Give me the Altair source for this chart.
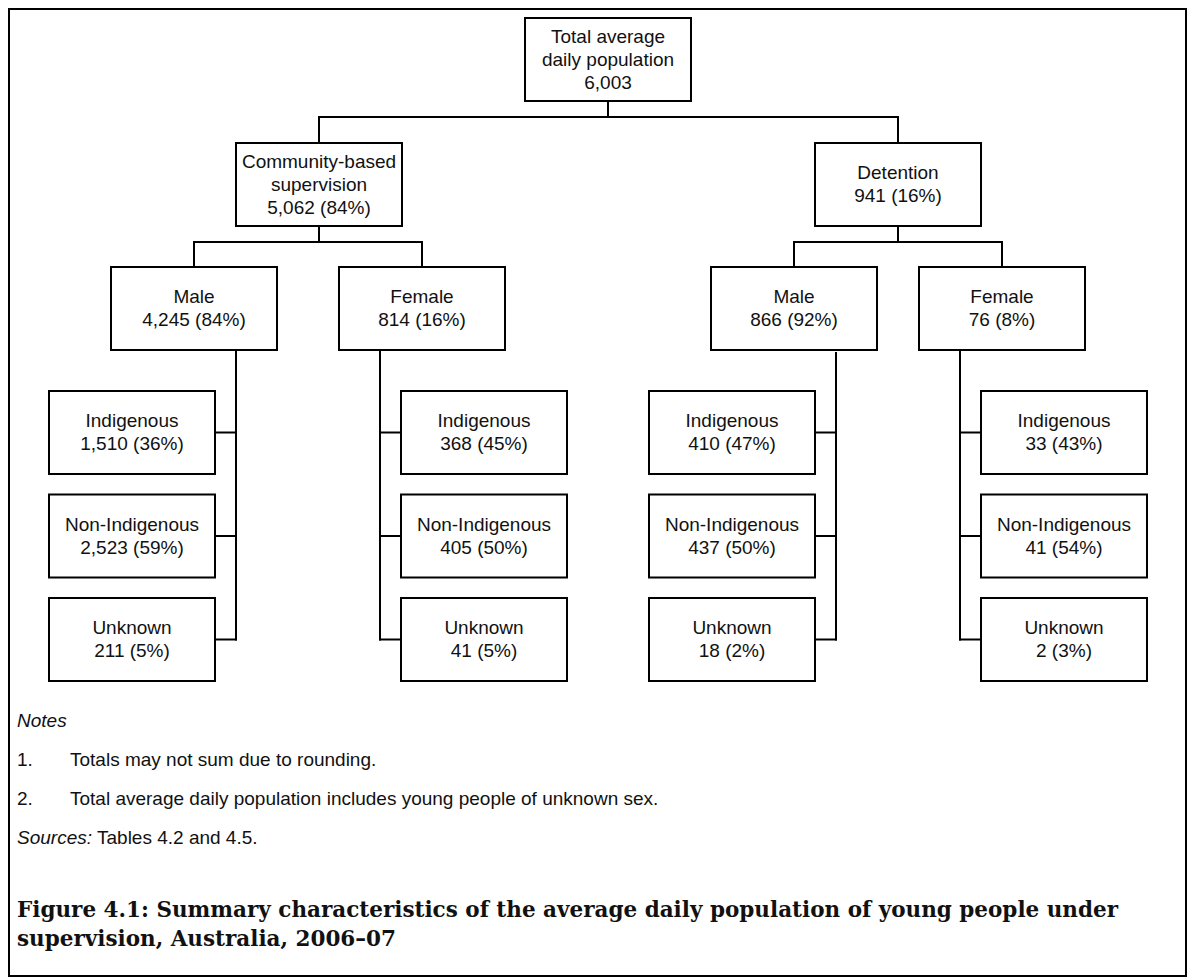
import altair as alt
import pandas as pd

# ---------------- data ----------------
root_label = ["Total average", "daily population"]
root_total = 6003

setting_lines = [["Community-based", "supervision"], ["Detention"]]
setting_counts = [5062, 941]
setting_pcts = [84, 16]

sexes = ["Male", "Female"]
sex_counts = [[4245, 814], [866, 76]]
sex_pcts = [[84, 16], [92, 8]]

statuses = ["Indigenous", "Non-Indigenous", "Unknown"]
status_counts = [[[1510, 2523, 211], [368, 405, 41]],
                 [[410, 437, 18], [33, 41, 2]]]
status_pcts = [[[36, 59, 5], [45, 50, 5]],
               [[47, 50, 2], [43, 54, 3]]]

notes_heading = "Notes"
note_numbers = ["1.", "2."]
notes = ["Totals may not sum due to rounding.",
         "Total average daily population includes young people of unknown sex."]
sources_label = "Sources:"
sources_text = "Tables 4.2 and 4.5."
title_lines = ["Figure 4.1: Summary characteristics of the average daily population of young people under",
               "supervision, Australia, 2006\u201307"]

# ---------------- layout (pixel space of the page) ----------------
BW, BH, LH = 166, 83, 23
ROOT_CX, ROOT_TOP = 608, 18
L1_CX, L1_TOP = [319, 898], 143
L2_CX, L2_TOP = [[194, 422], [794, 1002]], 267
LEAF_TOPS = [391, 494.5, 598]
TRUNK_OFF = [42, -42]          # trunk x relative to sex-box centre (male, female)
LEAF_GAP = 21
TRUNK_TOP_ADJ = [[0, 0], [3, -5]]

def fmt(n):
    return f"{n:,}"

boxes, texts, segs = [], [], []

def add_box(cx, top, lines):
    boxes.append(dict(x=cx - BW / 2, x2=cx + BW / 2, y=top, y2=top + BH))
    cy = top + BH / 2
    n = len(lines)
    for i, t in enumerate(lines):
        texts.append(dict(x=cx, y=cy + (i - (n - 1) / 2) * LH, text=t, kind="box"))

def seg(x, y, x2, y2):
    segs.append(dict(x=x, y=y, x2=x2, y2=y2))

# root
add_box(ROOT_CX, ROOT_TOP, root_label + [fmt(root_total)])
bar1 = ROOT_TOP + BH + 16
seg(ROOT_CX, ROOT_TOP + BH, ROOT_CX, bar1)
seg(L1_CX[0], bar1, L1_CX[1], bar1)

for s in range(2):
    cx = L1_CX[s]
    seg(cx, bar1, cx, L1_TOP)
    add_box(cx, L1_TOP, setting_lines[s] + [f"{fmt(setting_counts[s])} ({setting_pcts[s]}%)"])
    bar2 = L1_TOP + BH + 16
    seg(cx, L1_TOP + BH, cx, bar2)
    seg(L2_CX[s][0], bar2, L2_CX[s][1], bar2)
    for g in range(2):
        gx = L2_CX[s][g]
        seg(gx, bar2, gx, L2_TOP)
        add_box(gx, L2_TOP, [sexes[g], f"{fmt(sex_counts[s][g])} ({sex_pcts[s][g]}%)"])
        trunk = gx + TRUNK_OFF[g]
        last_cy = LEAF_TOPS[-1] + BH / 2
        seg(trunk, L2_TOP + BH + TRUNK_TOP_ADJ[s][g], trunk, last_cy)
        for k, top in enumerate(LEAF_TOPS):
            cy = top + BH / 2
            if g == 0:
                edge = trunk - LEAF_GAP
                lcx = edge - BW / 2
            else:
                edge = trunk + LEAF_GAP
                lcx = edge + BW / 2
            seg(trunk, cy, edge, cy)
            add_box(lcx, top, [statuses[k],
                               f"{fmt(status_counts[s][g][k])} ({status_pcts[s][g][k]}%)"])

# notes
foot = []
foot.append(dict(x=17, y=721, text=notes_heading, kind="italic"))
for i, (num, t) in enumerate(zip(note_numbers, notes)):
    y = 760 + i * 39
    foot.append(dict(x=17, y=y, text=num, kind="note"))
    foot.append(dict(x=70, y=y, text=t, kind="note"))
foot.append(dict(x=17, y=838, text=sources_label, kind="italic"))
foot.append(dict(x=97, y=838, text=sources_text, kind="note"))
for i, t in enumerate(title_lines):
    foot.append(dict(x=17, y=911 + i * 29, text=t, kind="title"))

boxes_df = pd.DataFrame(boxes)
texts_df = pd.DataFrame(texts)
segs_df = pd.DataFrame(segs)
foot_df = pd.DataFrame(foot)
frame_df = pd.DataFrame([dict(x=9, x2=1186, y=9, y2=976)])

W, H = 1179, 971
xs = alt.Scale(domain=[8, 8 + W], nice=False, zero=False)
ys = alt.Scale(domain=[8, 8 + H], nice=False, zero=False, reverse=True)

def X(f="x"):
    return alt.X(f"{f}:Q", scale=xs, axis=None)

def Y(f="y"):
    return alt.Y(f"{f}:Q", scale=ys, axis=None)

frame = alt.Chart(frame_df).mark_rect(fill="white", stroke="black", strokeWidth=2).encode(
    x=X(), x2="x2:Q", y=Y(), y2="y2:Q")

lines = alt.Chart(segs_df).mark_rule(color="black", strokeWidth=2, strokeCap="square").encode(
    x=X(), x2="x2:Q", y=Y(), y2="y2:Q")

rects = alt.Chart(boxes_df).mark_rect(fill="white", stroke="black", strokeWidth=2).encode(
    x=X(), x2="x2:Q", y=Y(), y2="y2:Q")

box_text = alt.Chart(texts_df).mark_text(
    font="Liberation Sans", fontSize=19, align="center", baseline="middle", color="#111111"
).encode(x=X(), y=Y(), text="text:N")

def foot_layer(kind, **kw):
    return alt.Chart(foot_df[foot_df.kind == kind]).mark_text(
        align="left", baseline="middle", color="#111111", **kw
    ).encode(x=X(), y=Y(), text="text:N")

notes_layer = foot_layer("note", font="Liberation Sans", fontSize=19)
italic_layer = foot_layer("italic", font="Liberation Sans", fontSize=19, fontStyle="italic")
title_layer = foot_layer("title", font="DejaVu Serif", fontSize=21.5, fontWeight="bold")

chart = alt.layer(frame, lines, rects, box_text, notes_layer, italic_layer, title_layer).properties(
    width=W, height=H, padding=0, autosize=alt.AutoSizeParams(type="none")
).configure_view(stroke=None)

chart.save("out.html", embed_options={"renderer": "svg", "actions": False})
